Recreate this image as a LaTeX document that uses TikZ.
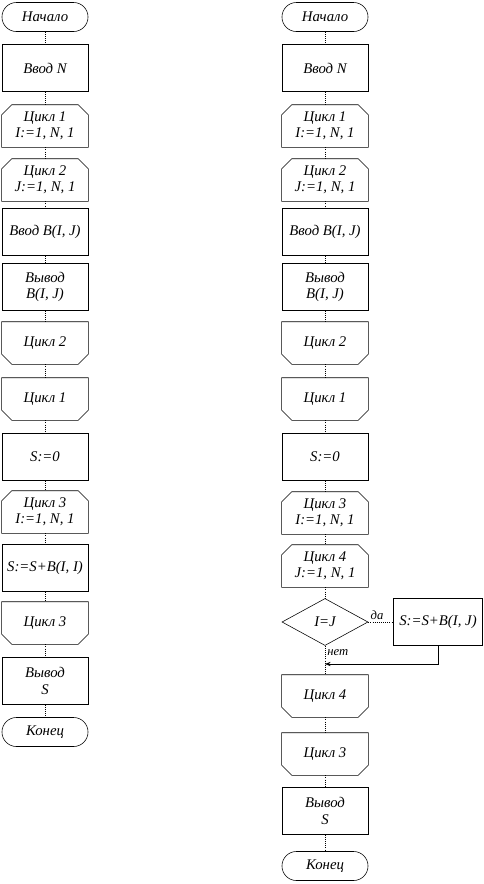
\documentclass[tikz,border=0pt]{standalone}
\usepackage{fontspec}
\setmainfont{Liberation Serif}
\usetikzlibrary{shapes.geometric, positioning, arrows.meta}

\tikzset{
    blok/.style={draw, thin, minimum width=2.15cm, minimum height=1.175cm,
        inner sep=1pt, align=center, font=\fontsize{10.5}{11.5}\selectfont\itshape},
    term/.style={blok, rounded corners=0.36cm, minimum height=0.725cm},
    cikl/.style={blok, draw=none, minimum height=1.05cm},
    usl/.style={blok, diamond, inner sep=0pt, minimum height=1.175cm},
    kontur/.style={thin, line join=miter},
    svyaz/.style={line width=0.5pt, densely dotted},
    metka/.style={font=\fontsize{9}{10}\selectfont\itshape, inner sep=1.5pt}
}

\begin{document}
\begin{tikzpicture}[x=0.025cm, y=-0.025cm]

    % ==========================================
    % 0. RAMKA
    % ==========================================
    \useasboundingbox (0,0) rectangle (484,884);

    % ==========================================
    % 1. LEVAYA SKHEMA
    % ==========================================
    \node[term]  (lNachalo) at (45,17)  {Начало};
    \node[blok]  (lVvodN)   at (45,68)  {Ввод N};
    \node[cikl]  (lCikl1)   at (45,126) {Цикл 1\\I:=1, N, 1};
    \node[cikl]  (lCikl2)   at (45,180) {Цикл 2\\J:=1, N, 1};
    \node[blok]  (lVvodB)   at (45,232) {Ввод B(I, J)};
    \node[blok]  (lVyvodB)  at (45,287) {Вывод\\B(I, J)};
    \node[cikl]  (lKon2)    at (45,343) {Цикл 2};
    \node[cikl]  (lKon1)    at (45,399) {Цикл 1};
    \node[blok]  (lS0)      at (45,457) {S:=0};
    \node[cikl]  (lCikl3)   at (45,512) {Цикл 3\\I:=1, N, 1};
    \node[blok]  (lSum)     at (45,568) {S:=S+B(I, I)};
    \node[cikl]  (lKon3)    at (45,623) {Цикл 3};
    \node[blok]  (lVyvodS)  at (45,681) {Вывод\\S};
    \node[term]  (lKonec)   at (45,732) {Конец};

    \foreach \a/\b in {lNachalo/lVvodN, lVvodN/lCikl1, lCikl1/lCikl2,
        lCikl2/lVvodB, lVvodB/lVyvodB, lVyvodB/lKon2, lKon2/lKon1,
        lKon1/lS0, lS0/lCikl3, lCikl3/lSum, lSum/lKon3, lKon3/lVyvodS,
        lVyvodS/lKonec}
        \draw[svyaz] (\a) -- (\b);

    % ==========================================
    % 2. PRAVAYA SKHEMA
    % ==========================================
    \node[term]  (rNachalo) at (325,17)  {Начало};
    \node[blok]  (rVvodN)   at (325,68)  {Ввод N};
    \node[cikl]  (rCikl1)   at (325,126) {Цикл 1\\I:=1, N, 1};
    \node[cikl]  (rCikl2)   at (325,180) {Цикл 2\\J:=1, N, 1};
    \node[blok]  (rVvodB)   at (325,232) {Ввод B(I, J)};
    \node[blok]  (rVyvodB)  at (325,287) {Вывод\\B(I, J)};
    \node[cikl]  (rKon2)    at (325,343) {Цикл 2};
    \node[cikl]  (rKon1)    at (325,399) {Цикл 1};
    \node[blok]  (rS0)      at (325,457) {S:=0};
    \node[cikl]  (rCikl3)   at (325,513) {Цикл 3\\I:=1, N, 1};
    \node[cikl]  (rCikl4)   at (325,566) {Цикл 4\\J:=1, N, 1};
    \node[usl]   (rUsl)     at (325,622) {I=J};
    \node[blok, minimum width=2.22cm] (rSum) at (438,622) {S:=S+B(I, J)};
    \node[cikl]  (rKon4)    at (325,696) {Цикл 4};
    \node[cikl]  (rKon3)    at (325,754) {Цикл 3};
    \node[blok]  (rVyvodS)  at (325,811) {Вывод\\S};
    \node[term]  (rKonec)   at (325,866) {Конец};

    \foreach \a/\b in {rNachalo/rVvodN, rVvodN/rCikl1, rCikl1/rCikl2,
        rCikl2/rVvodB, rVvodB/rVyvodB, rVyvodB/rKon2, rKon2/rKon1,
        rKon1/rS0, rS0/rCikl3, rCikl3/rCikl4, rCikl4/rUsl,
        rKon4/rKon3, rKon3/rVyvodS, rVyvodS/rKonec}
        \draw[svyaz] (\a) -- (\b);

    % vetvleniye
    \draw[svyaz] (rUsl) -- node[metka, above, pos=0.35] {да} (rSum);
    \draw[svyaz] (rUsl) -- node[metka, right, pos=0.25] {нет} (rKon4);

    % vozvrat na osnovnuyu liniyu
    \coordinate (vozvrat) at (325,664);
    \draw[thin, -{Stealth[length=4pt, width=3pt]}] (rSum.south) |- (vozvrat);

    % ==========================================
    % 3. KONTURY TSIKLOV (srezannyye ugly)
    % ==========================================
    % nachalo tsikla: srez sverkhu
    \foreach \n in {lCikl1, lCikl2, lCikl3, rCikl1, rCikl2, rCikl3, rCikl4}
        \draw[kontur] (\n.south west) -- ([yshift=-2.5mm]\n.north west)
            -- ([xshift=2.5mm]\n.north west) -- ([xshift=-2.5mm]\n.north east)
            -- ([yshift=-2.5mm]\n.north east) -- (\n.south east) -- cycle;

    % konets tsikla: srez snizu
    \foreach \n in {lKon2, lKon1, lKon3, rKon2, rKon1, rKon4, rKon3}
        \draw[kontur] (\n.north west) -- ([yshift=2.5mm]\n.south west)
            -- ([xshift=2.5mm]\n.south west) -- ([xshift=-2.5mm]\n.south east)
            -- ([yshift=2.5mm]\n.south east) -- (\n.north east) -- cycle;

\end{tikzpicture}
\end{document}
